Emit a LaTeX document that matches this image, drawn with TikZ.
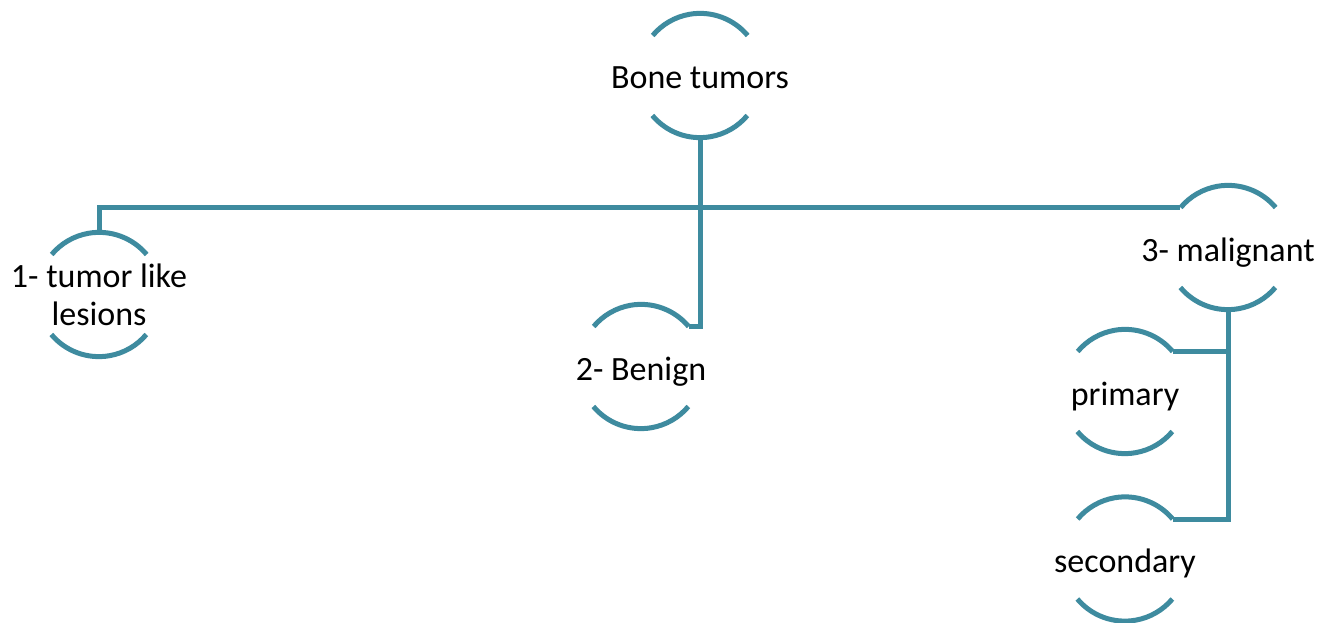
\documentclass[tikz,border=0pt]{standalone}
\usepackage{fontspec}
\setmainfont{Carlito}
\definecolor{teal1}{RGB}{62,139,159}
\begin{document}
\begin{tikzpicture}[x=1pt,y=1pt,
  bub/.style={circle,minimum size=124pt,inner sep=0pt,draw=none},
  txt/.style={align=center,font=\fontsize{34}{38}\selectfont,inner sep=0pt},
  txtone/.style={txt,text depth=0pt,yshift=-2pt},
  arcs/.style={draw=teal1,line width=5pt},
  conn/.style={draw=teal1,line width=5pt}]
\useasboundingbox (0,0) rectangle (1330,623);
\node[bub] (bone) at (700,547.5) {};
\node[bub] (lesions) at (99,328.5) {};
\node[bub] (benign) at (641,256.5) {};
\node[bub] (malig) at (1228,375.5) {};
\node[bub] (primary) at (1125,231.5) {};
\node[bub] (secondary) at (1125,64) {};
\node[txtone] (bonet) at (bone) {Bone tumors};
\node[txt] (lesionst) at (lesions) {1- tumor like\\lesions};
\node[txtone] (benignt) at (benign) {2- Benign};
\node[txtone] (maligt) at (malig) {3- malignant};
\node[txtone] (primaryt) at (primary) {primary};
\node[txtone] (secondaryt) at (secondary) {secondary};
\foreach \n in {bone,lesions,benign,malig,primary,secondary}{
  \path[arcs] (\n.40) arc[start angle=40,end angle=140,radius=62pt];
  \path[arcs] (\n.220) arc[start angle=220,end angle=320,radius=62pt];
}
\path[conn] (bone.south) |- (benign.40);
\path[conn] (lesions.north) |- (malig.140);
\path[conn] (malig.south) |- (primary.40);
\path[conn] (malig.south) |- (secondary.40);
\end{tikzpicture}
\end{document}
